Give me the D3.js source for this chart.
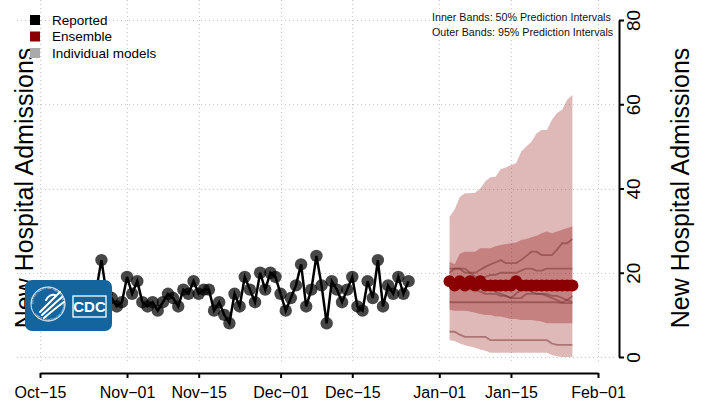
<!DOCTYPE html>
<html><head><meta charset="utf-8">
<script src="https://cdn.jsdelivr.net/npm/d3@7"></script>
<style>body{margin:0;background:#fff}svg{display:block}text{font-family:"Liberation Sans",Arial,Helvetica,sans-serif}</style>
</head><body>
<svg id="c" width="707" height="404"></svg>
<script>
// ---------- data ----------
const reportedStart = "2021-10-18";
const reportedValues = [14,12,15,11,13,16,12,14,16,23,15,14,12,13,
  19,15,18,13,12,13,11,13,15,14,12,16,15,18,15,16,16,11,13,10,8,15,12,19,16,13,20,16,20,19,
  15,11,14,17,22,12,16,24,17,8,18,16,13,16,19,12,11,18,14,23,12,17,15,19,15,18];
const forecastStart = "2022-01-03";
const ensemble = [18,17,18,17,18,17,18,17,17,17,17,17,17,18,17,17,17,17,17,17,17,17,17,17,17];
const upper95 = [33.3,35,38,38.9,38.9,39,40,41.7,42.7,42.8,44.6,45,45.6,46,48.8,50,51.1,53.1,53.9,53.9,56.3,57.9,58.7,61.1,62.2];
const upper50 = [22.6,22,24.5,25,25,25,25.8,25.8,25.8,26.3,26.6,26.8,27,27.2,27.8,28,28.4,28.8,29.4,29.8,29.4,29.8,30.2,30.6,31];
const lower50 = [11.2,11,11,11,10.8,10.5,10.2,10,10,9.6,9.6,9.3,9,9,8.8,8.8,8.8,8.6,8.4,8,8,8,8,8,8];
const lower95 = [4,3.8,3.2,2.8,2.5,2.2,1.8,1.5,1,1,1,1,1,1,1,1,1,1,1,1,0.5,0.2,0,0,0];
const modelA = [20,21,21,21,20,20,20.7,21.4,22,22.5,23,22.3,22.3,22.3,23,24,25,25,24.2,24.2,24.2,25.5,27,27,28];
const modelB = [21,21,21,20,20,19,19,19,19.5,19.5,20,20,20,20,20.5,21,21,20.5,20.5,21,21,21,21,21,21];
const modelC = [18,18,18,17.5,17.5,17.5,17.5,18,16,15.5,15,14.5,14,15,16,16,15.5,15,15,14.5,14,13.5,13,13.5,14.5];
const modelD = [13,13,13,13,13,13,13,13,13,13,13,13,13,13,13,13,13,13,13,13,13,13,12.8,12.8,12.8];
const modelE = [6,6,5.3,4.8,4.8,4.8,4.8,4.8,4,4,4,4,4,4,4,4,4,4,4,4,3.2,2.9,2.9,2.9,2.9];
const modelF = [17,17,16.5,16.5,16,16,15.5,15,15,15,14.5,14.5,14,14,14,15,15,15,15,15,14.5,14.5,14,13.5,13];
const xTickDates = ["2021-10-15","2021-11-01","2021-11-15","2021-12-01","2021-12-15","2022-01-01","2022-01-15","2022-02-01"];
const yTicks = [0,20,40,60,80];
const legendLabels = ["Reported","Ensemble","Individual models"];
const legendColors = ["#000000","#8b0000","#aaaaaa"];
const noteLines = ["Inner Bands: 50% Prediction Intervals","Outer Bands: 95% Prediction Intervals"];
const yTitle = "New Hospital Admissions";

// ---------- setup ----------
const parse = d3.timeParse("%Y-%m-%d");
const svg = d3.select("#c");
const x = d3.scaleTime().domain([parse("2021-10-15"), parse("2022-02-01")]).range([40, 598]);
const y = d3.scaleLinear().domain([0, 80]).range([357, 20]);
const rStart = parse(reportedStart);
const reported = reportedValues.map((v,i)=>({d:d3.timeDay.offset(rStart,i), v}));
const fStart = parse(forecastStart);
const fDates = ensemble.map((_,i)=>d3.timeDay.offset(fStart,i));
const fmt = d3.timeFormat("%b\u2212%d");

// grid
const grid = svg.append("g").attr("stroke","#c8c8c8").attr("stroke-width",1).attr("stroke-dasharray","1,3");
xTickDates.forEach(s=>{const xx=Math.round(x(parse(s)))+0.5;
  grid.append("line").attr("x1",xx).attr("x2",xx).attr("y1",0).attr("y2",362);});
yTicks.forEach(t=>{const yy=Math.round(y(t))+0.5;
  grid.append("line").attr("x1",17).attr("x2",617).attr("y1",yy).attr("y2",yy);});

// bands
const band = (lo,hi)=>d3.area().x((_,i)=>x(fDates[i])).y0((_,i)=>y(lo[i])).y1((_,i)=>y(hi[i]))(fDates);
svg.append("path").attr("d",band(lower95,upper95)).attr("fill","#8b0000").attr("fill-opacity",0.28);
svg.append("path").attr("d",band(lower50,upper50)).attr("fill","#8b0000").attr("fill-opacity",0.3);

// model lines
const line = d3.line().x(d=>x(d.d)).y(d=>y(d.v));
[modelA,modelB,modelC,modelD,modelE,modelF].forEach(m=>{
  svg.append("path").attr("d",line(m.map((v,i)=>({d:fDates[i],v}))))
    .attr("fill","none").attr("stroke","#7a3030").attr("stroke-opacity",0.5).attr("stroke-width",1.8);
});

// ensemble
const ens = ensemble.map((v,i)=>({d:fDates[i],v}));
svg.append("path").attr("d",line(ens)).attr("fill","none").attr("stroke","#8b0000").attr("stroke-width",2.5);
svg.append("g").selectAll("circle").data(ens).join("circle")
  .attr("cx",d=>x(d.d)).attr("cy",d=>y(d.v)).attr("r",6).attr("fill","#8b0000");

// reported
svg.append("path").attr("d",line(reported)).attr("fill","none").attr("stroke","#000").attr("stroke-width",2.5);
svg.append("g").selectAll("circle").data(reported).join("circle")
  .attr("cx",d=>x(d.d)).attr("cy",d=>y(d.v)).attr("r",6.2).attr("fill","#000").attr("fill-opacity",0.72);

// bottom axis
const xa = svg.append("g").attr("transform","translate(0,373)")
  .call(d3.axisBottom(x).tickValues(xTickDates.map(parse)).tickFormat(fmt).tickSize(5).tickSizeOuter(0).tickPadding(9));
xa.select(".domain").attr("stroke","#000").attr("stroke-width",2);
xa.selectAll(".tick line").attr("stroke","#000").attr("stroke-width",2);
xa.selectAll("text").attr("font-size",16).attr("fill","#000");

// right axis
const ya = svg.append("g").attr("transform","translate(619,0)")
  .call(d3.axisRight(y).tickValues(yTicks).tickSize(5).tickSizeOuter(0).tickFormat(d3.format("d")));
ya.select(".domain").attr("stroke","#000").attr("stroke-width",2);
ya.selectAll(".tick line").attr("stroke","#000").attr("stroke-width",2);
ya.selectAll("text").attr("font-size",19).attr("fill","#000")
  .attr("x",0).attr("dy",0).attr("text-anchor","middle")
  .attr("transform","translate(21,0) rotate(-90)");

// titles
svg.append("text").attr("transform","translate(689,188) rotate(-90)").attr("text-anchor","middle")
  .attr("font-size",25).text(yTitle);
svg.append("text").attr("transform","translate(33,188) rotate(-90)").attr("text-anchor","middle")
  .attr("font-size",25).text(yTitle);

// legend
legendLabels.forEach((l,i)=>{
  svg.append("rect").attr("x",30).attr("y",15+i*16.5).attr("width",10).attr("height",10).attr("fill",legendColors[i]);
  svg.append("text").attr("x",52).attr("y",20+i*16.5).attr("dy","0.35em").attr("font-size",13.5).text(l);
});
noteLines.forEach((t,i)=>{
  svg.append("text").attr("x",432).attr("y",17.5+i*15).attr("dy","0.35em").attr("font-size",10.7).attr("fill","#111").text(t);
});

// CDC logo
const lg = svg.append("g");
lg.append("rect").attr("x",25).attr("y",280).attr("width",87).attr("height",51).attr("rx",7).attr("fill","#14659e");
lg.append("path").attr("id","sealArc").attr("d","M33,304 a15,15 0 1,1 30,0 a15,15 0 1,1 -30,0").attr("fill","none");
lg.append("circle").attr("cx",48).attr("cy",304).attr("r",17).attr("fill","none").attr("stroke","#fff").attr("stroke-width",0.9);
lg.append("text").attr("font-size",3.2).attr("fill","#fff").append("textPath").attr("href","#sealArc")
  .text("DEPARTMENT OF HEALTH & HUMAN SERVICES \u2022 USA \u2022");
[["M40,312 C46,306 52,300 60,292"],["M42,315 C49,309 55,303 62,297"],["M44,318 C51,312 57,307 64,302"],["M46,300 C48,296 52,294 55,295"]]
  .forEach(p=>lg.append("path").attr("d",p[0]).attr("fill","none").attr("stroke","#fff").attr("stroke-width",2).attr("stroke-linecap","round"));
lg.append("rect").attr("x",73).attr("y",296).attr("width",33).attr("height",21).attr("fill","none").attr("stroke","#fff").attr("stroke-width",1.3);
lg.append("text").attr("x",89.5).attr("y",307).attr("dy","0.35em").attr("text-anchor","middle")
  .attr("font-family","'Liberation Serif',serif").attr("font-weight","bold").attr("font-size",15).attr("fill","#fff").text("CDC");
</script>
</body></html>
